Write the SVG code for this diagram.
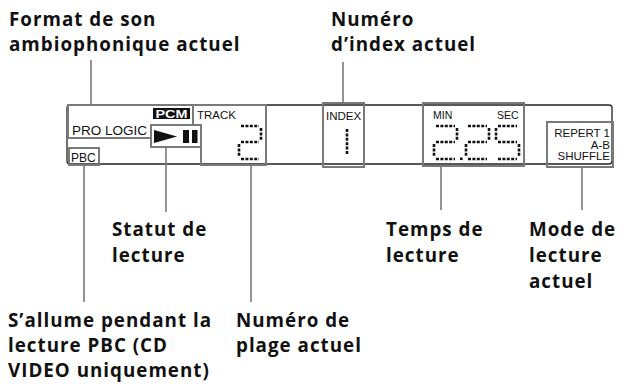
<svg xmlns="http://www.w3.org/2000/svg" width="621" height="384" viewBox="0 0 621 384">
<defs>
<style>
.lbl{font-family:"Open Sans","Liberation Sans",sans-serif;font-weight:700;font-size:18.8px;letter-spacing:1px;fill:#111}
.lcd{font-family:"Liberation Sans",Arial,sans-serif;fill:#111}
.hl{fill:none;stroke:#7a7a7a;stroke-width:2}
.conn{fill:none;stroke:#7a7a7a;stroke-width:1.6}
.seg{fill:none;stroke:#111;stroke-width:2.6;stroke-dasharray:3 1.4}
</style>
</defs>
<rect width="621" height="384" fill="#fff"/>

<g id="display">
<rect x="67" y="105" width="545" height="59" rx="3" fill="none" stroke="#222" stroke-width="1.3"/>
</g>

<g id="format-box">
<path class="hl" d="M68,105 H193 V125 H151 V138 H68 Z"/>
<rect x="153" y="108" width="37" height="11" fill="#111"/>
<text x="171.5" y="117.5" class="lcd" font-size="11" font-weight="700" style="fill:#fff" text-anchor="middle" textLength="32" lengthAdjust="spacingAndGlyphs">PCM</text>
<text x="72" y="135" class="lcd" font-size="13.5">PRO LOGIC</text>
</g>

<g id="play-box">
<rect class="hl" x="151" y="125" width="50" height="22"/>
<polygon points="154,130 177,136.5 154,143" fill="#111"/>
<rect x="183" y="130" width="6" height="13" fill="#111"/>
<rect x="192" y="130" width="5.5" height="13" fill="#111"/>
</g>

<g id="track-box">
<path class="hl" d="M193,105 H266 V165 H201 V147"/>
<text x="197" y="118.5" class="lcd" font-size="11.5">TRACK</text>
<path class="seg" d="M241,126 H259 M261,128 V140 M241,142 H259 M239,144 V157 M241,159 H259"/>
</g>

<g id="pbc-box">
<rect class="hl" x="69" y="148" width="30" height="17"/>
<text x="71" y="162" class="lcd" font-size="12">PBC</text>
</g>

<g id="index-box">
<rect class="hl" x="323" y="103" width="41" height="64"/>
<text x="326" y="120" class="lcd" font-size="11.5">INDEX</text>
<path class="seg" d="M347,129 V155"/>
</g>

<g id="time-box">
<rect class="hl" x="423" y="103" width="101" height="63"/>
<text x="433" y="119" class="lcd" font-size="10.5">MIN</text>
<text x="497" y="119" class="lcd" font-size="10.5">SEC</text>
<path class="seg" d="M436,126 H455 M457,128 V140 M436,142 H455 M434,144 V157 M436,159 H455"/>
<rect x="460" y="157.5" width="2.6" height="2.6" fill="#111"/>
<path class="seg" d="M468,126 H487 M489,128 V140 M468,142 H487 M466,144 V157 M468,159 H487"/>
<path class="seg" d="M498,126 H517 M496,128 V140 M498,142 H517 M519,144 V157 M498,159 H517"/>
</g>

<g id="mode-box">
<rect class="hl" x="547" y="122" width="66" height="45"/>
<text x="610" y="137" class="lcd" font-size="11.5" text-anchor="end">REPERT 1</text>
<text x="610" y="148.5" class="lcd" font-size="11.5" text-anchor="end">A-B</text>
<text x="610" y="160" class="lcd" font-size="11.5" text-anchor="end">SHUFFLE</text>
</g>

<g id="connectors">
<line class="conn" x1="91" y1="60" x2="91" y2="105"/>
<line class="conn" x1="343" y1="62" x2="343" y2="103"/>
<line class="conn" x1="84" y1="165" x2="84" y2="302"/>
<line class="conn" x1="166" y1="147" x2="166" y2="212"/>
<line class="conn" x1="251" y1="165" x2="251" y2="302"/>
<line class="conn" x1="441" y1="166" x2="441" y2="210"/>
<line class="conn" x1="582" y1="167" x2="582" y2="210"/>
</g>

<g id="labels">
<text class="lbl" x="9" y="26">Format de son</text>
<text class="lbl" x="9" y="51">ambiophonique actuel</text>
<text class="lbl" x="331" y="26">Numéro</text>
<text class="lbl" x="331" y="51">d’index actuel</text>
<text class="lbl" x="112" y="236">Statut de</text>
<text class="lbl" x="112" y="262">lecture</text>
<text class="lbl" x="386" y="236">Temps de</text>
<text class="lbl" x="386" y="262">lecture</text>
<text class="lbl" x="529" y="236">Mode de</text>
<text class="lbl" x="529" y="262">lecture</text>
<text class="lbl" x="529" y="288">actuel</text>
<text class="lbl" x="8" y="327">S’allume pendant la</text>
<text class="lbl" x="8" y="352">lecture PBC (CD</text>
<text class="lbl" x="8" y="377">VIDEO uniquement)</text>
<text class="lbl" x="236" y="327">Numéro de</text>
<text class="lbl" x="236" y="352">plage actuel</text>
</g>
</svg>
